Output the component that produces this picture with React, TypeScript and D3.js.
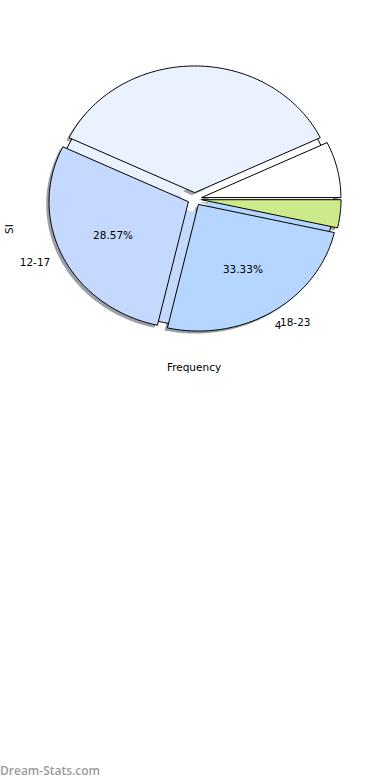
import React from "react";
import * as d3 from "d3";

const categories = ["", "", "12-17", "18-23", ""];
const values = [2, 10, 8, 7, 1];
const explode = [0.05, 0.05, 0.05, 0.05, 0.05];
const pctLabels = ["", "", "28.57%", "33.33%", ""];
const colors = ["#ffffff", "#eaf2ff", "#c5d9ff", "#b4d6ff", "#cdea8a"];
const extraLabels = [{ text: "4", slice: 3 }];
const xLabel = "Frequency";
const yLabel = "SI";
const watermark = "Dream-Stats.com";

export default function App() {
  const W = 390, H = 780;
  const cx = 194.7, cy = 199, rx = 139.4, ry = 126.7;
  const sh = 0.02, hole = 0.1, ext = 0.2;
  const X = (x: number) => cx + rx * x;
  const Y = (y: number) => cy - ry * y;
  const arcs = d3.pie<number>().sort(null).startAngle(0).endAngle(2 * Math.PI)(values);
  const lineGen = d3.line<[number, number]>().x(p => X(p[0])).y(p => Y(p[1]));
  const arcPts = (a0: number, a1: number, r: number, ox: number, oy: number) => {
    const n = Math.max(4, Math.ceil(Math.abs(a1 - a0) / (Math.PI / 180)));
    const pts: [number, number][] = [];
    for (let i = 0; i <= n; i++) {
      const a = a0 + ((a1 - a0) * i) / n;
      pts.push([ox + r * Math.cos(a), oy + r * Math.sin(a)]);
    }
    return pts;
  };
  const wedge = (a0: number, a1: number, ox: number, oy: number) =>
    lineGen([[ox, oy], ...arcPts(a0, a1, 1, ox, oy)]) + "Z";
  const ring = (a0: number, a1: number, r0: number) =>
    lineGen([...arcPts(a0, a1, 1, 0, 0), ...arcPts(a1, a0, r0, 0, 0)]) + "Z";
  const slices = arcs.map((a, i) => {
    const a0 = a.startAngle, a1 = a.endAngle, mid = (a0 + a1) / 2;
    const ex = explode[i];
    return { i, a0, a1, mid, ex, fx: ex * Math.cos(mid), fy: ex * Math.sin(mid) };
  });
  const shadowColor = (c: string) => {
    const r = d3.rgb(c);
    return d3.rgb(r.r * 0.3, r.g * 0.3, r.b * 0.3).toString();
  };
  const font = "DejaVu Sans, sans-serif";
  return (
    <svg width={W} height={H} style={{ position: "absolute", left: 0, top: 0 }} fontFamily={font}>
      <rect width={W} height={H} fill="#fff" />
      <g>
        {slices.map(s => (
          <path key={"sh" + s.i} d={wedge(s.a0, s.a1, s.fx - sh, s.fy - sh)} fill={shadowColor(colors[s.i])} fillOpacity={0.5} />
        ))}
      </g>
      <g>
        {[...slices].reverse().map(s => (
          <path key={"b" + s.i} d={ring(s.a0, s.a1 + ext, hole)} fill={colors[s.i]} />
        ))}
        {slices.map(s => (
          <path key={"bo" + s.i} d={lineGen(arcPts(s.a0, s.a1, 1, 0, 0)) || ""} fill="none" stroke="#000" strokeWidth={1} />
        ))}
      </g>
      <g>
        {slices.map(s => (
          <path key={"f" + s.i} d={wedge(s.a0, s.a1, s.fx, s.fy)} fill={colors[s.i]} stroke="#000" strokeWidth={1} strokeLinejoin="round" />
        ))}
      </g>
      <g fontSize={10.5} fill="#000">
        {slices.map(s => pctLabels[s.i] ? (
          <text key={"p" + s.i} x={X((0.6 + s.ex) * Math.cos(s.mid))} y={Y((0.6 + s.ex) * Math.sin(s.mid))} textAnchor="middle" dominantBaseline="central">{pctLabels[s.i]}</text>
        ) : null)}
        {slices.map(s => categories[s.i] ? (
          <text key={"l" + s.i} x={X((1.1 + s.ex) * Math.cos(s.mid))} y={Y((1.1 + s.ex) * Math.sin(s.mid))} textAnchor={Math.cos(s.mid) < 0 ? "end" : "start"} dominantBaseline="central">{categories[s.i]}</text>
        ) : null)}
        {extraLabels.map((e, k) => {
          const s = slices[e.slice];
          return (
            <text key={"e" + k} x={X((1.12 + s.ex) * Math.cos(s.mid))} y={Y((1.12 + s.ex) * Math.sin(s.mid))} textAnchor="end" dominantBaseline="central">{e.text}</text>
          );
        })}
        <text x={194} y={367} textAnchor="middle" dominantBaseline="central">{xLabel}</text>
        <text transform="translate(9,229) rotate(-90)" textAnchor="middle" dominantBaseline="central">{yLabel}</text>
      </g>
      <text x={0} y={775} fontFamily="Open Sans, sans-serif" fontWeight={600} fontSize={12} fill="#9a9a9a">{watermark}</text>
    </svg>
  );
}
